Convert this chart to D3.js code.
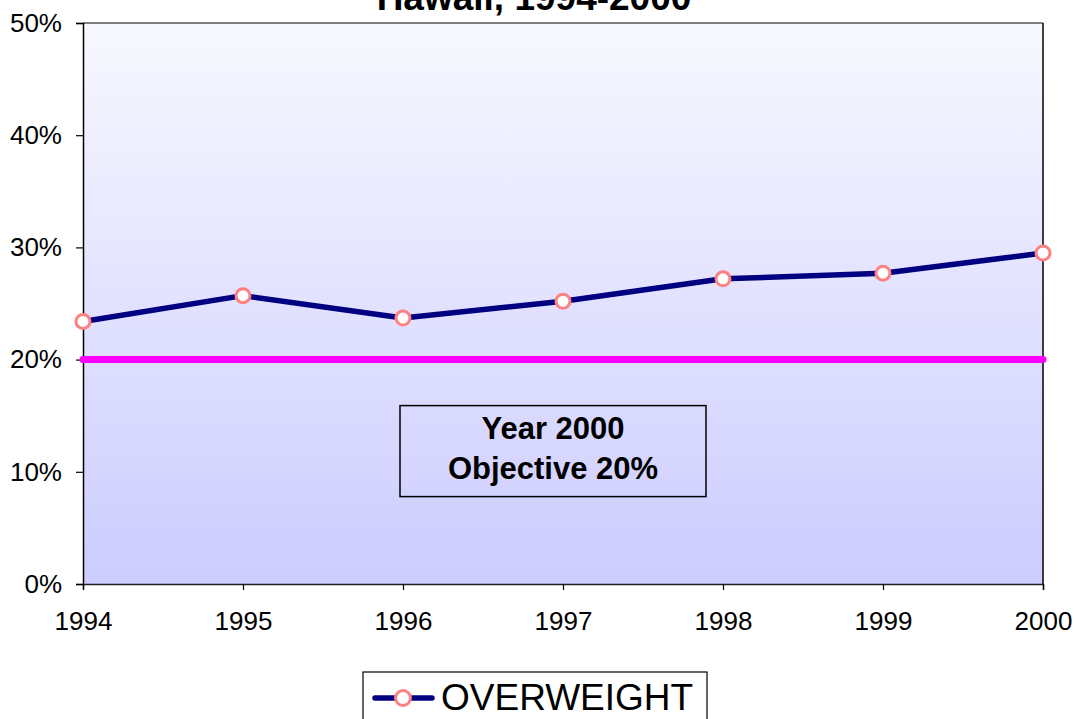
<!DOCTYPE html>
<meta charset="utf-8">
<title>Overweight Hawaii</title>
<style>
  body { margin: 0; background: #fff; }
  text { font-family: "Liberation Sans", Arial, sans-serif; }
</style>
<body>
<script src="https://cdn.jsdelivr.net/npm/d3@7"></script>
<script>
// data
var years = ["1994", "1995", "1996", "1997", "1998", "1999", "2000"];
var overweight = [23.4, 25.7, 23.7, 25.2, 27.2, 27.7, 29.5];
var objective = 20;
var yTicks = [0, 10, 20, 30, 40, 50];

var W = 1074, H = 719;
var margin = {top: 23, right: 31, bottom: 135, left: 83};
var width = W - margin.left - margin.right;
var height = H - margin.top - margin.bottom;

var svg = d3.select("body").append("svg")
  .attr("width", W).attr("height", H);

var defs = svg.append("defs");
var grad = defs.append("linearGradient")
  .attr("id", "bg").attr("x1", 0).attr("y1", 0).attr("x2", 0).attr("y2", 1);
grad.append("stop").attr("offset", "0%").attr("stop-color", "#f8f8ff");
grad.append("stop").attr("offset", "100%").attr("stop-color", "#ccccff");

// title (first line is off the top of the picture)
svg.append("text")
  .attr("x", 534).attr("y", 10)
  .attr("text-anchor", "middle")
  .style("font-size", "37px").style("font-weight", "bold")
  .text("Hawaii, 1994-2000");

var g = svg.append("g")
  .attr("transform", "translate(" + margin.left + "," + margin.top + ")");

var x = d3.scalePoint().domain(years).range([0, width]);
var y = d3.scaleLinear().domain([0, 50]).range([height, 0]);

// plot area
g.append("rect")
  .attr("width", width).attr("height", height)
  .attr("fill", "url(#bg)");
g.append("line").attr("x1", 0).attr("x2", width).attr("y1", 0).attr("y2", 0)
  .attr("stroke", "#555").attr("stroke-width", 1.5);
g.append("line").attr("x1", width).attr("x2", width).attr("y1", 0).attr("y2", height)
  .attr("stroke", "#000").attr("stroke-width", 1.5);

// y axis
var yAxis = g.append("g")
  .call(d3.axisLeft(y).tickValues(yTicks).tickSize(7).tickPadding(14)
    .tickFormat(function(d) { return d + "%"; }));
yAxis.select(".domain").attr("stroke", "#000").attr("stroke-width", 1.5);
yAxis.selectAll(".tick line").attr("stroke", "#000").attr("stroke-width", 1.2);
yAxis.selectAll("text")
  .style("font-size", "26px").attr("fill", "#000")
  .style("font-family", "'Liberation Sans', Arial, sans-serif");

// x axis
var xAxis = g.append("g")
  .attr("transform", "translate(0," + height + ")")
  .call(d3.axisBottom(x).tickSize(6).tickPadding(22));
xAxis.select(".domain").attr("stroke", "#222").attr("stroke-width", 1.5);
xAxis.selectAll(".tick line").attr("stroke", "#000").attr("stroke-width", 1.2);
xAxis.selectAll("text")
  .style("font-size", "26px").attr("fill", "#000")
  .style("font-family", "'Liberation Sans', Arial, sans-serif");

// objective line
g.append("line")
  .attr("x1", 0).attr("x2", width)
  .attr("y1", y(objective)).attr("y2", y(objective))
  .attr("stroke", "#ff00ff").attr("stroke-width", 7)
  .attr("stroke-linecap", "round");

// objective box
var bx = x("1996") - 3, bw = 306, by = y(15.9), bh = 91;
g.append("rect")
  .attr("x", bx).attr("y", by).attr("width", bw).attr("height", bh)
  .attr("fill", "none").attr("stroke", "#000").attr("stroke-width", 1.5);
g.append("text")
  .attr("x", bx + bw / 2).attr("y", by + 33)
  .attr("text-anchor", "middle")
  .style("font-size", "31px").style("font-weight", "bold")
  .text("Year 2000");
g.append("text")
  .attr("x", bx + bw / 2).attr("y", by + 73)
  .attr("text-anchor", "middle")
  .style("font-size", "31px").style("font-weight", "bold")
  .text("Objective 20%");

// overweight line
var line = d3.line()
  .x(function(d, i) { return x(years[i]); })
  .y(function(d) { return y(d); });

g.append("path")
  .datum(overweight)
  .attr("d", line)
  .attr("fill", "none")
  .attr("stroke", "#000080").attr("stroke-width", 5.5)
  .attr("stroke-linejoin", "round");

g.selectAll(".pt")
  .data(overweight)
  .enter().append("circle")
  .attr("class", "pt")
  .attr("cx", function(d, i) { return x(years[i]); })
  .attr("cy", function(d) { return y(d); })
  .attr("r", 7)
  .attr("fill", "#fff")
  .attr("stroke", "#ff8080").attr("stroke-width", 3);

// legend
var lg = svg.append("g").attr("transform", "translate(363,672)");
lg.append("rect")
  .attr("width", 344).attr("height", 60)
  .attr("fill", "#fff").attr("stroke", "#000").attr("stroke-width", 1.2);
lg.append("line")
  .attr("x1", 12).attr("x2", 69).attr("y1", 26).attr("y2", 26)
  .attr("stroke", "#000080").attr("stroke-width", 5.5)
  .attr("stroke-linecap", "round");
lg.append("circle")
  .attr("cx", 40).attr("cy", 26).attr("r", 7.5)
  .attr("fill", "#fff").attr("stroke", "#ff8080").attr("stroke-width", 3);
lg.append("text")
  .attr("x", 78).attr("y", 38)
  .style("font-size", "37px")
  .text("OVERWEIGHT");
</script>
</body>
